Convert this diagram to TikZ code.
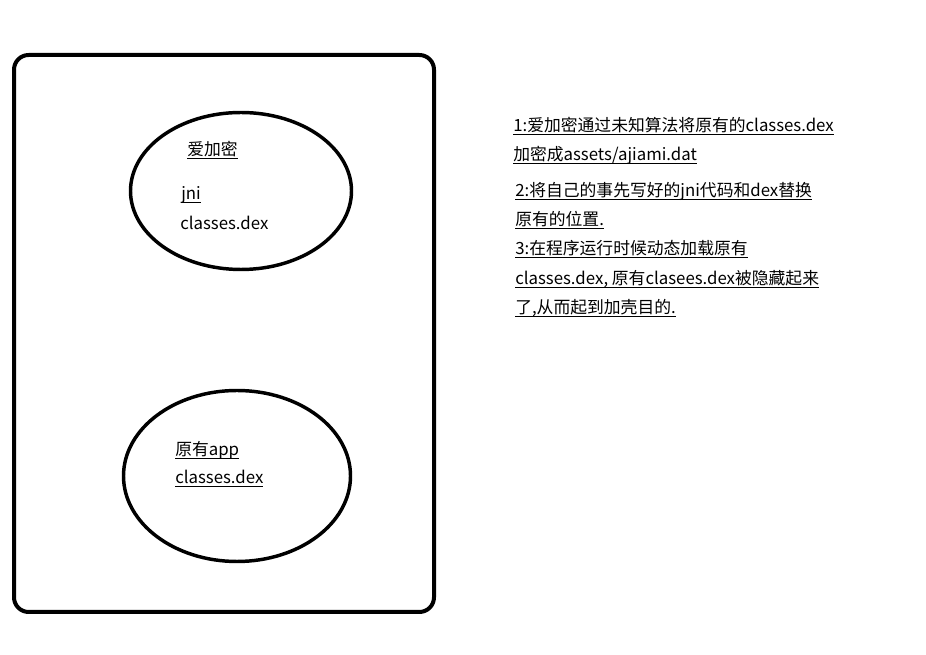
\documentclass[tikz,border=0pt]{standalone}
\usepackage{fontspec}
\setmainfont{Noto Sans CJK SC}
\usetikzlibrary{shapes.geometric}
\newcommand\myul[1]{\leavevmode\setbox0\hbox{#1}\rlap{\rule[-1.9pt]{\wd0}{0.7pt}}\box0}
\begin{document}
\begin{tikzpicture}[x=0.75pt,y=-0.75pt,
  txt/.style={anchor=base west,inner sep=0pt,font=\fontsize{12.6}{14}\selectfont},
  frame/.style={draw=black,line width=3pt,rounded corners=11pt},
  oval/.style={draw=black,line width=2.6pt,ellipse,inner sep=0pt}]
\useasboundingbox[fill=white] (0,0) rectangle (926,655);
\draw[frame] (14,55) rectangle (434,612);
\node[oval,minimum width=221*0.75pt,minimum height=157*0.75pt] (top) at (241,191) {};
\node[oval,minimum width=227*0.75pt,minimum height=171*0.75pt] (bot) at (237,476) {};
\node[txt] (t1) at (187,156) {\myul{爱加密}};
\node[txt] (t2) at (181,200) {\myul{jni}};
\node[txt] (t3) at (180,230) {classes.dex};
\node[txt] (b1) at (175,456) {\myul{原有app}};
\node[txt] (b2) at (175,484) {\myul{classes.dex}};
\node[txt] (r1) at (513,132) {\myul{1:爱加密通过未知算法将原有的classes.dex}};
\node[txt] (r2) at (513,161) {\myul{加密成assets/ajiami.dat}};
\node[txt] (r3) at (515,197) {\myul{2:将自己的事先写好的jni代码和dex替换}};
\node[txt] (r4) at (515,226) {\myul{原有的位置.}};
\node[txt] (r5) at (515,255) {\myul{3:在程序运行时候动态加载原有}};
\node[txt] (r6) at (515,285) {\myul{classes.dex, 原有clasees.dex被隐藏起来}};
\node[txt] (r7) at (515,314) {\myul{了,从而起到加壳目的.}};
\end{tikzpicture}
\end{document}
